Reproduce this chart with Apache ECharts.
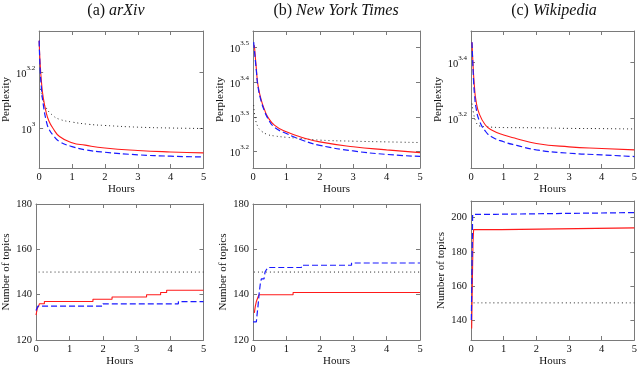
<!DOCTYPE html>
<html>
<head>
<meta charset="utf-8">
<script src="https://cdn.jsdelivr.net/npm/echarts@6/dist/echarts.min.js"></script>
<style>
html, body { margin: 0; padding: 0; background: #fff; }
#myChart { width: 640px; height: 368px; }
</style>
</head>
<body>
<div id="myChart"></div>
<script>
// ---- top row: perplexity vs hours ----
var arxivRedX = [0, 0.03, 0.07, 0.12, 0.22, 0.3, 0.42, 0.62, 1, 1.4, 2, 3, 4, 5];
var arxivRedY = [2046, 1698, 1462, 1294, 1130, 1059, 1000, 935, 889, 871, 851, 834, 824, 818];
var arxivBlueX = [0, 0.03, 0.07, 0.12, 0.22, 0.3, 0.42, 0.62, 1, 1.4, 2, 3, 4, 5];
var arxivBlueY = [2046, 1622, 1384, 1225, 1057, 993, 946, 897, 861, 839, 822, 805, 796, 791];
var arxivDotX = [0.04, 0.12, 0.22, 0.42, 0.62, 1, 1.5, 2, 3, 4, 5];
var arxivDotY = [1380, 1259, 1178, 1109, 1076, 1052, 1033, 1023, 1009, 1002, 998];

var nytRedX = [0.04, 0.1, 0.15, 0.25, 0.35, 0.44, 0.64, 1, 1.5, 2, 3, 4, 5];
var nytRedY = [3199, 2742, 2455, 2223, 2084, 1995, 1888, 1807, 1738, 1690, 1637, 1603, 1574];
var nytBlueX = [0.02, 0.1, 0.15, 0.25, 0.35, 0.44, 0.64, 1, 1.5, 2, 3, 4, 5];
var nytBlueY = [3266, 2704, 2432, 2203, 2065, 1977, 1862, 1786, 1706, 1652, 1592, 1556, 1535];
var nytDotX = [0.02, 0.07, 0.15, 0.25, 0.44, 0.64, 1, 1.4, 2, 3, 4, 5];
var nytDotY = [2153, 1972, 1866, 1816, 1774, 1758, 1742, 1730, 1710, 1698, 1690, 1683];

var wikiRedX = [0.03, 0.08, 0.11, 0.15, 0.25, 0.44, 0.63, 1, 1.4, 2, 3, 4, 5];
var wikiRedY = [2958, 2249, 2018, 1832, 1641, 1493, 1432, 1374, 1334, 1282, 1247, 1230, 1216];
var wikiBlueX = [0.03, 0.08, 0.11, 0.15, 0.25, 0.44, 0.63, 1, 1.4, 2, 3, 4, 5];
var wikiBlueY = [2958, 2133, 1910, 1734, 1552, 1419, 1355, 1300, 1262, 1216, 1183, 1167, 1151];
var wikiDotX = [0.03, 0.08, 0.15, 0.25, 0.44, 1, 2, 3, 4, 5];
var wikiDotY = [1782, 1641, 1535, 1483, 1472, 1462, 1459, 1452, 1449, 1445];

// ---- bottom row: number of topics vs hours (step changes) ----
var arxivTopRedX = [0, 0.04, 0.08, 0.1, 0.25, 1.7, 2.27, 3.3, 3.72, 3.9, 5];
var arxivTopRedY = [131, 134, 135, 136, 137, 138, 139, 140, 141, 142, 142];
var arxivTopBlueX = [0, 0.03, 0.06, 2.0, 4.25, 5];
var arxivTopBlueY = [133, 134, 135, 136, 137, 137];

var nytTopRedX = [0.04, 0.07, 0.1, 0.15, 0.18, 1.2, 5];
var nytTopRedY = [132, 135, 137, 139, 140, 141, 141];
var nytTopBlueX = [0, 0.1, 0.12, 0.15, 0.18, 0.22, 0.25, 0.33, 0.36, 0.4, 0.45, 1.45, 2.95, 5];
var nytTopBlueY = [128, 128, 131, 135, 140, 145, 147, 147, 150, 151, 152, 153, 154, 154];

var wikiTopRedX = [0.02, 0.04, 0.06, 0.08, 0.93, 5];
var wikiTopRedY = [135, 160, 185, 193, 194, 194];
var wikiTopBlueX = [0.01, 0.03, 0.05, 0.75, 5];
var wikiTopBlueY = [140, 170, 202, 203, 203];

var fixedTopics = 150;

var titles = ['(a) ', '(b) ', '(c) '];
var corpusNames = ['arXiv', 'New York Times', 'Wikipedia'];

function pairs(xs, ys, logY) {
  return xs.map(function (x, i) { return [x, logY ? Math.log10(ys[i]) : ys[i]]; });
}

var font = 'Liberation Serif';
var gray = '#7a7a7a';
var grids = [
  { left: 35.5, top: 31, width: 168, height: 137 },
  { left: 253, top: 31, width: 167, height: 137 },
  { left: 471, top: 31, width: 167, height: 137 },
  { left: 35.5, top: 204, width: 168, height: 139 },
  { left: 253, top: 204, width: 167, height: 139 },
  { left: 471, top: 201, width: 167, height: 139 }
];
// log10 ranges of the perplexity axes, and the topic axes
var yRanges = [[2.859, 3.345], [3.153, 3.546], [3.02, 3.511], [120, 180], [120, 180], [128.2, 209.8]];
var yTickVals = [[3, 3.2], [3.2, 3.3, 3.4, 3.5], [3.2, 3.4], [120, 140, 160, 180], [120, 140, 160, 180], [140, 160, 180, 200]];

var xAxes = [], yAxes = [];
for (var i = 0; i < 6; i++) {
  var isLog = i < 3;
  xAxes.push({
    gridIndex: i, type: 'value', min: 0, max: 5, interval: 1,
    name: 'Hours', nameLocation: 'middle', nameGap: 15,
    nameTextStyle: { fontFamily: font, fontSize: 11, color: '#111' },
    axisLine: { onZero: false, lineStyle: { color: gray, width: 1 } },
    axisTick: { inside: true, length: 4, lineStyle: { color: gray } },
    axisLabel: { fontFamily: font, fontSize: 10.5, color: '#111', margin: 4 },
    splitLine: { show: false }
  });
  yAxes.push({
    gridIndex: i, type: 'value', min: yRanges[i][0], max: yRanges[i][1],
    name: isLog ? 'Perplexity' : 'Number of topics', nameLocation: 'middle', nameGap: 24,
    nameTextStyle: { fontFamily: font, fontSize: 11, color: '#111' },
    axisLine: { onZero: false, lineStyle: { color: gray, width: 1 } },
    axisTick: { inside: true, length: 4, customValues: yTickVals[i], lineStyle: { color: gray } },
    axisLabel: {
      customValues: yTickVals[i], margin: 4, color: '#111', fontFamily: font, fontSize: 10.5,
      formatter: isLog ? function (v) { return '{b|10}{s|' + (+v.toFixed(1)) + '}'; } : null,
      rich: {
        b: { fontFamily: font, fontSize: 10.5, color: '#111', lineHeight: 15, verticalAlign: 'bottom' },
        s: { fontFamily: font, fontSize: 7, color: '#111', lineHeight: 9, verticalAlign: 'top' }
      }
    },
    splitLine: { show: false }
  });
}
// mirrored top / right axes for the closed box with inner ticks
for (var j = 0; j < 6; j++) {
  xAxes.push({
    gridIndex: j, type: 'value', position: 'top', min: 0, max: 5, interval: 1,
    axisLine: { onZero: false, lineStyle: { color: gray, width: 1 } },
    axisTick: { inside: true, length: 4, lineStyle: { color: gray } },
    axisLabel: { show: false }, splitLine: { show: false }
  });
  yAxes.push({
    gridIndex: j, type: 'value', position: 'right', min: yRanges[j][0], max: yRanges[j][1],
    axisLine: { onZero: false, lineStyle: { color: gray, width: 1 } },
    axisTick: { inside: true, length: 4, customValues: yTickVals[j], lineStyle: { color: gray } },
    axisLabel: { show: false }, splitLine: { show: false }
  });
}

var red = { color: '#ff1a1a', width: 1.1, type: 'solid' };
var blue = { color: '#1a1aff', width: 1.2, type: [6, 3] };
var dots = { color: '#222', width: 1, type: [1, 3] };

function line(idx, data, style, step) {
  return {
    type: 'line', xAxisIndex: idx, yAxisIndex: idx, data: data, showSymbol: false,
    step: step || false, smooth: step ? false : 0.5,
    lineStyle: style, silent: true
  };
}

var series = [
  line(0, pairs(arxivDotX, arxivDotY, true), dots),
  line(0, pairs(arxivRedX, arxivRedY, true), red),
  line(0, pairs(arxivBlueX, arxivBlueY, true), blue),
  line(1, pairs(nytDotX, nytDotY, true), dots),
  line(1, pairs(nytRedX, nytRedY, true), red),
  line(1, pairs(nytBlueX, nytBlueY, true), blue),
  line(2, pairs(wikiDotX, wikiDotY, true), dots),
  line(2, pairs(wikiRedX, wikiRedY, true), red),
  line(2, pairs(wikiBlueX, wikiBlueY, true), blue),
  line(3, [[0.08, fixedTopics], [5, fixedTopics]], dots),
  line(3, pairs(arxivTopRedX, arxivTopRedY), red, 'end'),
  line(3, pairs(arxivTopBlueX, arxivTopBlueY), blue, 'end'),
  line(4, [[0.03, fixedTopics], [5, fixedTopics]], dots),
  line(4, pairs(nytTopRedX, nytTopRedY), red, 'end'),
  line(4, pairs(nytTopBlueX, nytTopBlueY), blue, 'end'),
  line(5, [[0.08, fixedTopics], [5, fixedTopics]], dots),
  line(5, pairs(wikiTopRedX, wikiTopRedY), red, 'end'),
  line(5, pairs(wikiTopBlueX, wikiTopBlueY), blue, 'end')
];

var titleX = [116, 336, 554];
var graphic = titles.map(function (t, k) {
  return {
    type: 'text', x: titleX[k], y: 3,
    style: {
      text: '{n|' + t + '}{i|' + corpusNames[k] + '}', textAlign: 'center',
      rich: {
        n: { fontFamily: font, fontSize: 16, fill: '#111' },
        i: { fontFamily: font, fontSize: 16, fontStyle: 'italic', fill: '#111' }
      }
    }
  };
});

var myChart = echarts.init(document.getElementById('myChart'));
myChart.setOption({
  animation: false,
  grid: grids,
  xAxis: xAxes,
  yAxis: yAxes,
  graphic: graphic,
  series: series
});
</script>
</body>
</html>
